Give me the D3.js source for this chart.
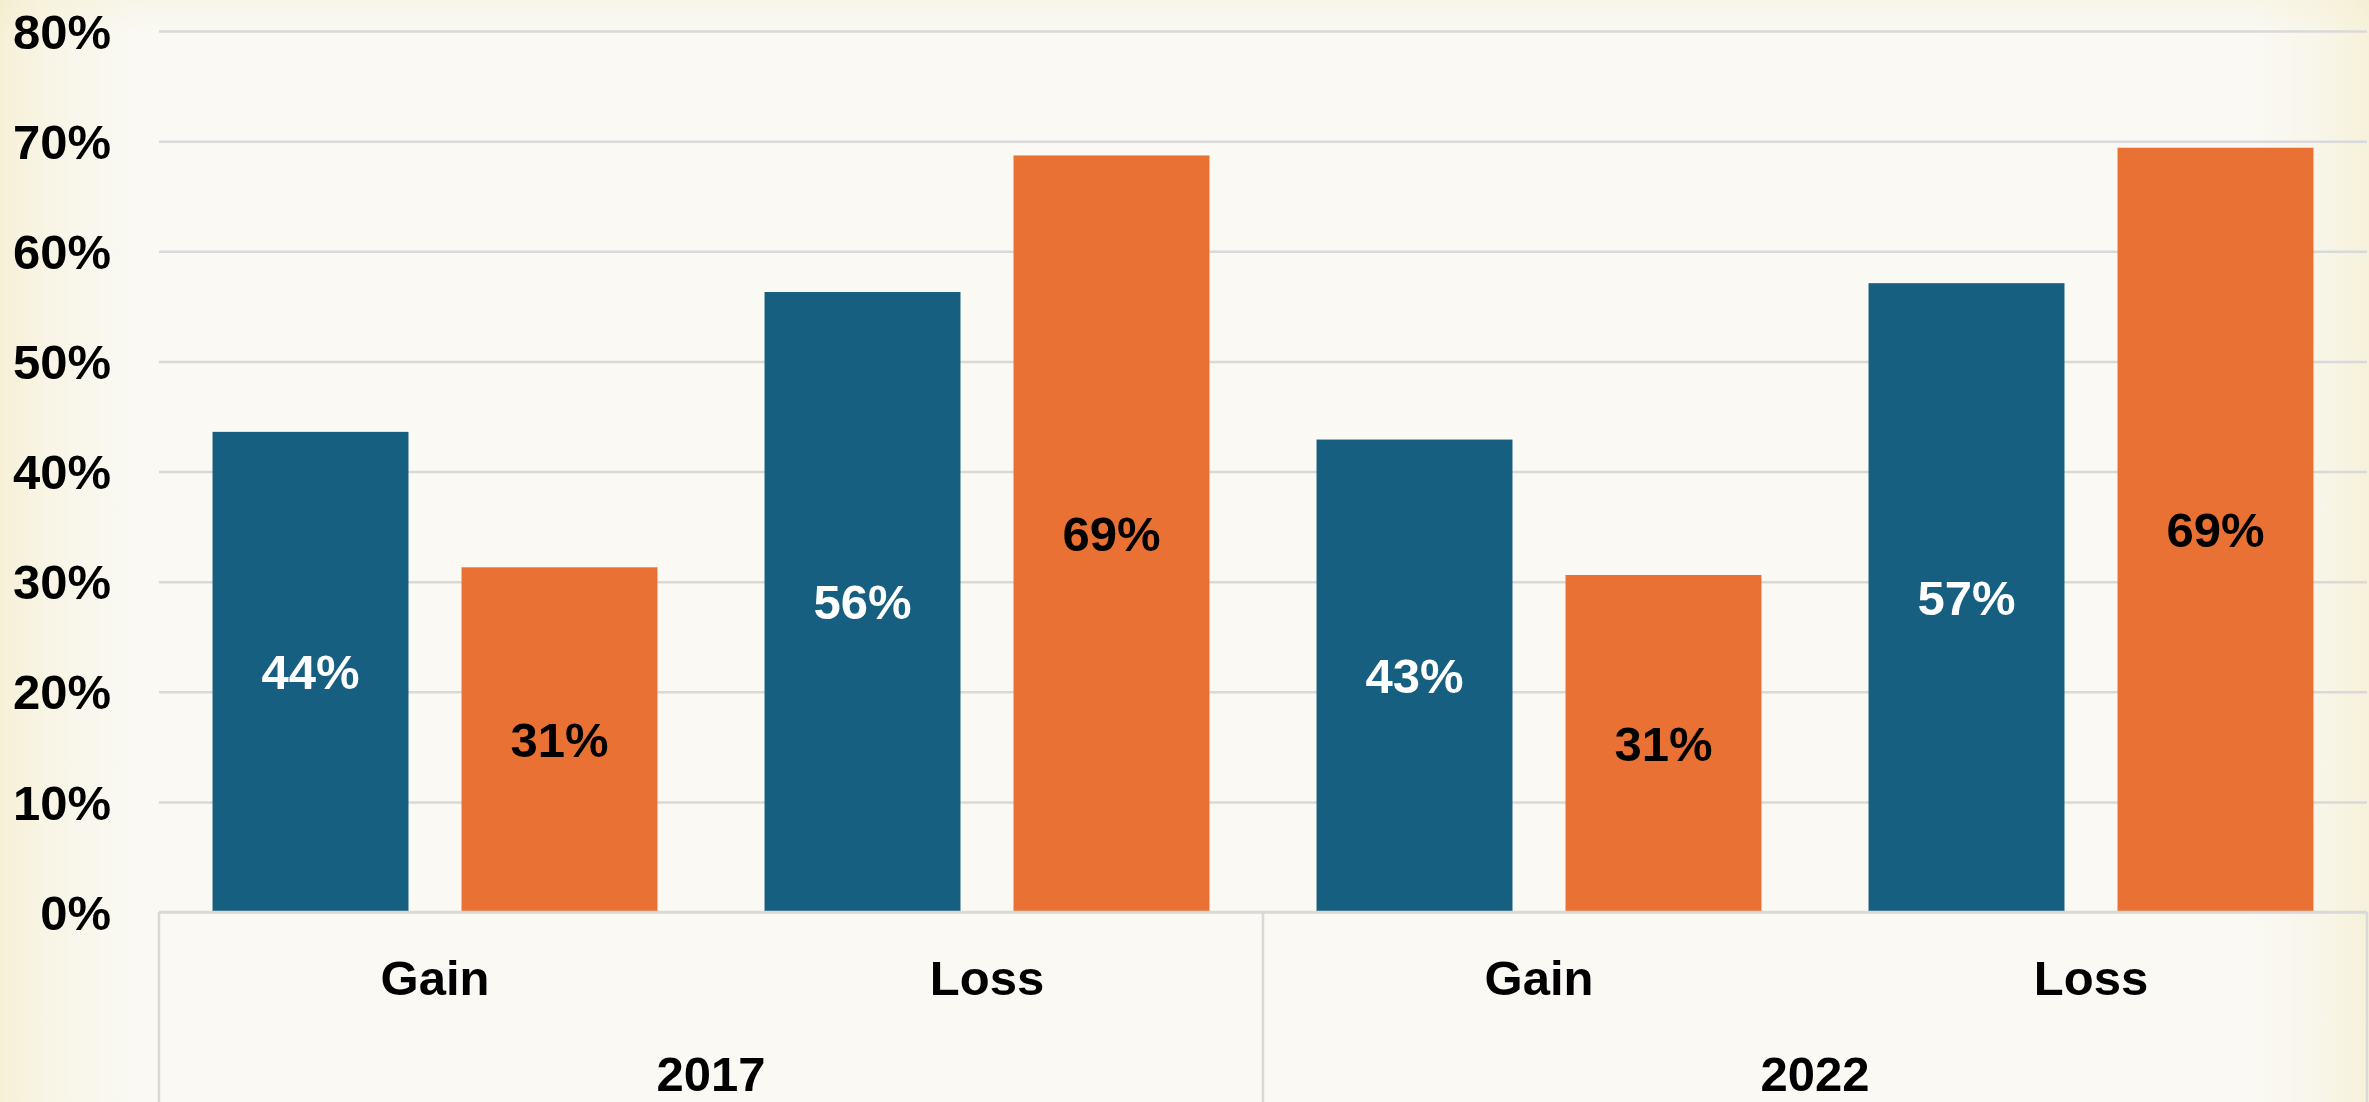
<!DOCTYPE html>
<html>
<head>
<meta charset="utf-8">
<script src="https://cdn.jsdelivr.net/npm/d3@7"></script>
<style>
    html, body { margin: 0; padding: 0; background: #faf8f2; }
    svg { display: block; }
    text { font-family: "Liberation Sans", Arial, sans-serif; font-weight: bold; }
</style>
</head>
<body>
<div id="chart"></div>
<script>
// data
const years = ["2017", "2022"]
const categories = ["Gain", "Loss"]
const seriesNames = ["blue", "orange"]
const blueValues = [0.436, 0.563, 0.429, 0.571]     // 2017 Gain, 2017 Loss, 2022 Gain, 2022 Loss
const orangeValues = [0.313, 0.687, 0.306, 0.694]
const yTicks = [0, 0.1, 0.2, 0.3, 0.4, 0.5, 0.6, 0.7, 0.8]

const W = 2369, H = 1102
const margin = { top: 31, right: 2, bottom: 190, left: 159 }
const plotW = W - margin.left - margin.right
const plotH = H - margin.top - margin.bottom

const colors = { blue: "#175f81", orange: "#e87133" }
const labelColors = { blue: "#ffffff", orange: "#000000" }
const gridColor = "#d9d9d9"

const rows = []
years.forEach((yr, i) => {
    categories.forEach((cat, j) => {
        const k = i * categories.length + j
        rows.push({ year: yr, cat, series: "blue", value: blueValues[k] })
        rows.push({ year: yr, cat, series: "orange", value: orangeValues[k] })
    })
})

const svg = d3.select("#chart")
    .append("svg")
    .attr("width", W)
    .attr("height", H)

/* BACKGROUND (parchment look) */
const defs = svg.append("defs")
function edgeGradient(id, x1, x2, y1, y2, stops) {
    const g = defs.append("linearGradient")
        .attr("id", id)
        .attr("x1", x1).attr("x2", x2).attr("y1", y1).attr("y2", y2)
    stops.forEach(s => g.append("stop")
        .attr("offset", s[0])
        .attr("stop-color", "#efe3a8")
        .attr("stop-opacity", s[1]))
}
edgeGradient("bg-left", "0%", "100%", "0%", "0%", [["0%", 0.4], ["2%", 0.18], ["6%", 0]])
edgeGradient("bg-right", "100%", "0%", "0%", "0%", [["0%", 0.35], ["2%", 0.15], ["5%", 0]])
edgeGradient("bg-top", "0%", "0%", "0%", "100%", [["0%", 0.15], ["3%", 0]])

svg.append("rect").attr("width", W).attr("height", H).attr("fill", "#faf9f4")
svg.append("rect").attr("width", W).attr("height", H).attr("fill", "url(#bg-top)")
svg.append("rect").attr("width", W).attr("height", H).attr("fill", "url(#bg-left)")
svg.append("rect").attr("width", W).attr("height", H).attr("fill", "url(#bg-right)")

const g = svg.append("g")
    .attr("transform", `translate(${margin.left}, ${margin.top})`)

/* SCALES */
const y = d3.scaleLinear()
    .domain([0, 0.8])
    .range([plotH, 0])

const x0 = d3.scaleBand()
    .domain(years)
    .range([0, plotW])

const x1 = d3.scaleBand()
    .domain(categories)
    .range([0, x0.bandwidth()])

const x2 = d3.scaleBand()
    .domain(seriesNames)
    .range([0, x1.bandwidth()])
    .paddingInner(0.213)
    .paddingOuter(0.215)

/* Y AXIS + GRID */
const yAxis = g.append("g")
    .call(d3.axisLeft(y)
        .tickValues(yTicks)
        .tickSize(-plotW)
        .tickPadding(48)
        .tickFormat(d3.format(".0%")))
yAxis.select(".domain").remove()
yAxis.selectAll(".tick line")
    .attr("stroke", gridColor)
    .attr("stroke-width", 2.5)
yAxis.selectAll(".tick text")
    .attr("fill", "#000")
    .attr("dy", "0.35em")
    .style("font-size", "49px")
    .style("font-family", "'Liberation Sans', Arial, sans-serif")
    .style("font-weight", "bold")

/* BARS */
g.selectAll(".bar")
    .data(rows)
    .enter()
    .append("rect")
    .attr("class", "bar")
    .attr("x", d => x0(d.year) + x1(d.cat) + x2(d.series))
    .attr("y", d => y(d.value))
    .attr("width", x2.bandwidth())
    .attr("height", d => y(0) - y(d.value))
    .attr("fill", d => colors[d.series])

/* BAR LABELS */
g.selectAll(".bar-label")
    .data(rows)
    .enter()
    .append("text")
    .attr("class", "bar-label")
    .attr("x", d => x0(d.year) + x1(d.cat) + x2(d.series) + x2.bandwidth() / 2)
    .attr("y", d => (y(d.value) + y(0)) / 2)
    .attr("dy", "0.35em")
    .attr("text-anchor", "middle")
    .attr("fill", d => labelColors[d.series])
    .style("font-size", "49px")
    .text(d => d3.format(".0%")(d.value))

/* CATEGORY TABLE BELOW */
const table = g.append("g")
    .attr("transform", `translate(0, ${plotH})`)

table.append("line")
    .attr("x1", 0).attr("x2", plotW)
    .attr("y1", 0).attr("y2", 0)
    .attr("stroke", gridColor)
    .attr("stroke-width", 2.5)

const dividers = years.map(yr => x0(yr)).concat([plotW])
table.selectAll(".divider")
    .data(dividers)
    .enter()
    .append("line")
    .attr("class", "divider")
    .attr("x1", d => d).attr("x2", d => d)
    .attr("y1", 0).attr("y2", margin.bottom)
    .attr("stroke", gridColor)
    .attr("stroke-width", 2.5)

years.forEach(yr => {
    table.selectAll(null)
        .data(categories)
        .enter()
        .append("text")
        .attr("x", d => x0(yr) + x1(d) + x1.bandwidth() / 2)
        .attr("y", 83)
        .attr("text-anchor", "middle")
        .attr("fill", "#000")
        .style("font-size", "49px")
        .text(d => d)
})

table.selectAll(".year-label")
    .data(years)
    .enter()
    .append("text")
    .attr("class", "year-label")
    .attr("x", d => x0(d) + x0.bandwidth() / 2)
    .attr("y", 179)
    .attr("text-anchor", "middle")
    .attr("fill", "#000")
    .style("font-size", "49px")
    .text(d => d)
</script>
</body>
</html>
